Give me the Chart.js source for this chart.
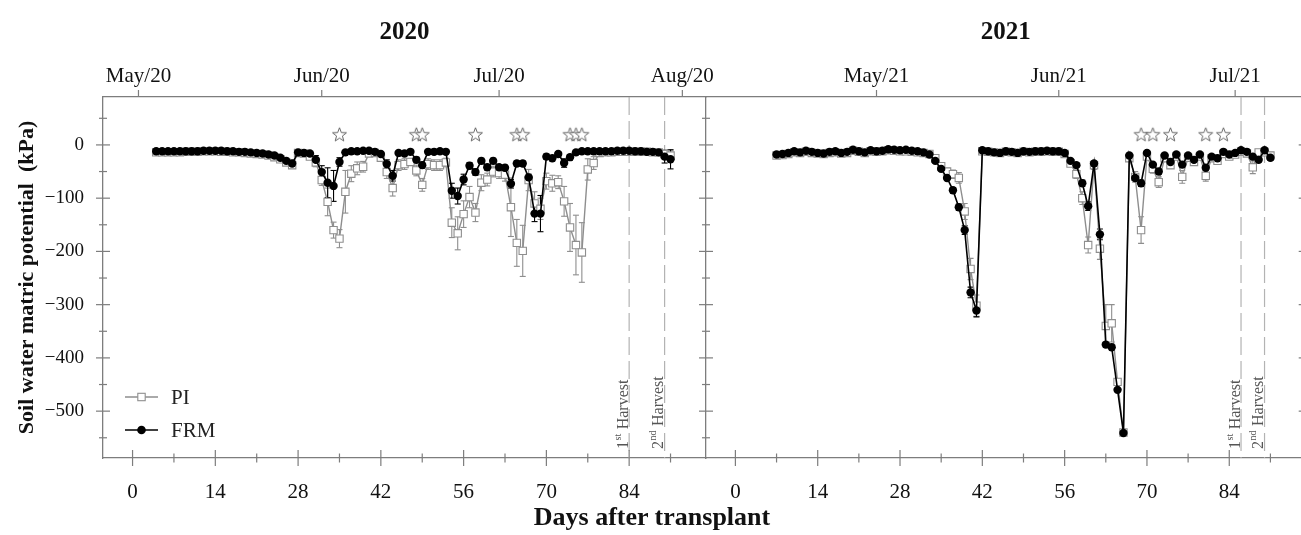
<!DOCTYPE html>
<html>
<head>
<meta charset="utf-8">
<script src="https://cdn.jsdelivr.net/npm/chart.js@4.4.1/dist/chart.umd.min.js"></script>
<style>
html, body { margin: 0; padding: 0; background: #fff; overflow: hidden; width: 1301px; height: 535px; }
canvas { position: absolute; top: 0; }
#c2020 { left: 0; }
#c2021 { left: 640px; }
#xlab { position: absolute; left: 452px; width: 400px; top: 502px; line-height: 30px; text-align: center;
        font: bold 26px 'Liberation Serif', 'Times New Roman', serif; color: #111; }
</style>
</head>
<body>
<canvas id="c2020" width="740" height="535"></canvas>
<canvas id="c2021" width="672" height="535"></canvas>
<div id="xlab">Days after transplant</div>
<script>
// ---- data (days after transplant, kPa) ----
var days2020 = [4,5,6,7,8,9,10,11,12,13,14,15,16,17,18,19,
  20,21,22,23,24,25,26,27,
  28,29,30,31,32,33,34,35,36,37,38,39,40,41,
  42,43,44,45,46,47,48,49,50,51,52,53,
  54,55,56,57,58,59,60,61,62,63,
  64,65,66,67,68,69,70,71,72,73,74,75,76,77,78,
  79,80,81,82,83,84,85,86,87,88,89,90,91];
var pi2020 = [-14,-14,-14,-14,-14,-13,-13,-13,-12,-12,-12,-13,-13,-14,-14,-15,
  -16,-17,-18,-20,-23,-27,-33,-38,
  -15,-16,-22,-33,-66,-107,-160,-176,-88,-54,-44,-41,-16,-15,
  -24,-51,-81,-38,-36,-32,-48,-75,-36,-38,-38,-33,
  -146,-166,-130,-98,-127,-71,-65,-50,-53,-56,
  -117,-184,-199,-66,-110,-120,-68,-72,-70,-106,-155,-188,-202,-46,-34,
  -15,-14,-14,-13,-13,-13,-13,-13,-13,-14,-14,-17,-20];
var frm2020 = [-12,-12,-12,-12,-12,-12,-12,-12,-11,-11,-11,-11,-12,-12,-13,-13,
  -14,-15,-16,-18,-20,-24,-30,-35,
  -14,-15,-16,-28,-51,-71,-77,-32,-14,-12,-12,-11,-11,-13,
  -17,-36,-58,-15,-16,-13,-28,-38,-13,-13,-12,-13,
  -86,-96,-65,-39,-51,-30,-42,-30,-42,-43,
  -73,-35,-35,-61,-129,-129,-22,-25,-17,-34,-23,-14,-12,-12,-12,
  -12,-12,-12,-11,-11,-11,-12,-12,-13,-13,-14,-22,-27];
var piErr2020 = [0,0,0,0,0,0,0,0,0,0,0,0,0,0,0,0,
  0,0,0,0,0,3,5,6,
  0,0,4,8,10,26,15,17,40,15,12,10,0,0,
  5,12,15,10,10,6,10,12,10,10,10,8,
  28,31,25,20,17,15,12,10,10,12,
  55,44,48,20,22,20,15,15,12,28,45,56,56,20,12,
  0,0,0,0,0,0,0,0,0,0,0,6,10];
var frmErr2020 = [0,0,0,0,0,0,0,0,0,0,0,0,0,0,0,0,
  0,0,0,0,0,3,5,6,
  0,0,0,8,12,28,29,8,0,0,0,0,0,0,
  0,8,10,0,0,0,5,6,0,0,0,0,
  14,15,10,6,6,5,5,5,5,5,
  8,5,5,6,15,34,5,5,4,8,5,0,0,0,0,
  0,0,0,0,0,0,0,0,0,0,0,12,18];
var stars2020 = [35, 48, 49, 58, 65, 66, 74, 75, 76];
var harvest2020 = [84, 90];
var monthDays2020 = [1, 32, 62, 93];
var monthLabels2020 = ['May/20', 'Jun/20', 'Jul/20', 'Aug/20'];

var days2021 = [7,8,9,10,11,12,13,14,15,16,17,18,19,20,21,22,23,24,25,26,27,28,29,30,31,32,
  33,34,35,36,37,38,39,40,41,
  42,43,44,45,46,47,48,49,50,51,52,53,54,55,
  56,57,58,59,60,61,62,63,64,65,66,
  67,68,69,70,71,72,73,74,75,76,77,78,79,80,81,82,83,84,85,86,87,88,89,90,91];
var pi2021 = [-20,-19,-17,-14,-15,-13,-15,-16,-17,-15,-14,-16,-15,-11,-13,-15,-12,-13,-12,-10,-11,-12,-12,-13,-14,-15,
  -17,-25,-40,-50,-55,-62,-125,-233,-302,
  -12,-13,-14,-15,-13,-14,-15,-13,-14,-13,-13,-12,-13,-13,
  -17,-35,-55,-100,-188,-38,-195,-340,-335,-445,-540,
  -25,-60,-160,-22,-45,-70,-25,-38,-22,-60,-24,-32,-22,-58,-25,-30,-17,-22,-18,-13,-16,-42,-14,-14,-20];
var frm2021 = [-18,-17,-15,-12,-14,-11,-13,-15,-16,-13,-12,-15,-13,-9,-12,-14,-10,-12,-11,-8,-9,-10,-9,-11,-12,-14,
  -18,-30,-45,-62,-85,-117,-160,-277,-311,
  -10,-12,-14,-15,-12,-13,-15,-12,-13,-12,-12,-11,-12,-12,
  -15,-30,-38,-72,-115,-35,-168,-375,-380,-460,-541,
  -20,-62,-72,-15,-37,-50,-20,-32,-18,-37,-20,-28,-18,-43,-22,-25,-13,-18,-15,-10,-13,-22,-28,-10,-24];
var piErr2021 = [0,0,0,0,0,0,0,0,0,0,0,0,0,0,0,0,0,0,0,0,0,0,0,0,0,0,
  0,3,5,6,8,10,15,20,20,
  0,0,0,0,0,0,0,0,0,0,0,0,0,0,
  0,5,8,12,15,8,20,40,35,0,0,
  5,10,25,5,8,10,5,6,5,12,5,5,5,10,5,5,4,5,4,3,4,12,4,4,6];
var frmErr2021 = [0,0,0,0,0,0,0,0,0,0,0,0,0,0,0,0,0,0,0,0,0,0,0,0,0,0,
  0,0,3,4,5,6,8,10,12,
  0,0,0,0,0,0,0,0,0,0,0,0,0,0,
  0,3,4,6,8,4,10,0,0,0,0,
  3,5,6,3,4,5,3,4,3,4,3,3,3,4,3,3,3,3,3,3,3,4,4,3,5];
var stars2021 = [69, 71, 74, 80, 83];
var harvest2021 = [86, 90];
var monthDays2021 = [24, 55, 85];
var monthLabels2021 = ['May/21', 'Jun/21', 'Jul/21'];

var xTickVals = [0,7,14,21,28,35,42,49,56,63,70,77,84,91];
var yTickVals = [50,0,-50,-100,-150,-200,-250,-300,-350,-400,-450,-500,-550];

// ---- styling ----
var serif = "'Liberation Serif', 'Times New Roman', serif";
var axisColor = '#7d7d7d';
var piColor = '#8e8e8e';
var starLevel = 20;

function makeStar() {
  var c = document.createElement('canvas');
  c.width = 17; c.height = 17;
  var g = c.getContext('2d');
  g.beginPath();
  for (var i = 0; i < 10; i++) {
    var r = i % 2 ? 3.1 : 7.3;
    var a = -Math.PI / 2 + i * Math.PI / 5;
    var px = 8.5 + r * Math.cos(a), py = 9.2 + r * Math.sin(a);
    if (i) g.lineTo(px, py); else g.moveTo(px, py);
  }
  g.closePath();
  g.fillStyle = '#fff'; g.fill();
  g.strokeStyle = '#555'; g.lineWidth = 0.9; g.stroke();
  return c;
}
var starImg = makeStar();

function line(ctx, x1, y1, x2, y2) {
  ctx.beginPath(); ctx.moveTo(x1, y1); ctx.lineTo(x2, y2); ctx.stroke();
}

var panelPlugin = {
  id: 'panel',
  beforeDatasetsDraw: function(chart, args, opts) {
    var ctx = chart.ctx, a = chart.chartArea;
    var xs = chart.scales.x, ys = chart.scales.y;
    ctx.save();
    ctx.beginPath(); ctx.rect(a.left, a.top, a.right - a.left, a.bottom - a.top); ctx.clip();
    // harvest lines
    ctx.strokeStyle = '#b3b3b3'; ctx.lineWidth = 1.2; ctx.setLineDash([18, 6]);
    opts.harvest.forEach(function(d) {
      var px = xs.getPixelForValue(d);
      line(ctx, px, a.top, px, a.bottom);
    });
    ctx.setLineDash([]);
    // error bars
    chart.data.datasets.forEach(function(ds) {
      if (!ds.errors) return;
      ctx.strokeStyle = ds.borderColor; ctx.lineWidth = 1.1;
      ds.data.forEach(function(pt, i) {
        var e = ds.errors[i];
        if (!e) return;
        var px = xs.getPixelForValue(pt.x);
        var y1 = ys.getPixelForValue(pt.y + e), y2 = ys.getPixelForValue(pt.y - e);
        line(ctx, px, y1, px, y2);
        line(ctx, px - 3, y1, px + 3, y1);
        line(ctx, px - 3, y2, px + 3, y2);
      });
    });
    ctx.restore();
  },
  afterDraw: function(chart, args, opts) {
    var ctx = chart.ctx, a = chart.chartArea;
    var xs = chart.scales.x, ys = chart.scales.y, xt = chart.scales.xTop;
    ctx.save();
    // tick marks crossing the axes
    ctx.strokeStyle = axisColor; ctx.lineWidth = 1.2;
    xs.ticks.forEach(function(t) {
      var p = xs.getPixelForValue(t.value), L = t.value % 14 === 0 ? 8 : 4.5;
      line(ctx, p, a.bottom - L, p, a.bottom + L);
    });
    ys.ticks.forEach(function(t) {
      var p = ys.getPixelForValue(t.value), L = t.value % 100 === 0 ? 7 : 4;
      line(ctx, a.left - L, p, a.left + L, p);
      if (opts.rightTicks) line(ctx, a.right - L, p, a.right, p);
    });
    xt.ticks.forEach(function(t) {
      var p = xt.getPixelForValue(t.value);
      line(ctx, p, a.top - 7, p, a.top);
    });
    // panel title
    ctx.fillStyle = '#111';
    ctx.font = 'bold 25px ' + serif;
    ctx.textAlign = 'center'; ctx.textBaseline = 'alphabetic';
    ctx.fillText(opts.year, (a.left + a.right) / 2, 39);
    // harvest labels
    ctx.fillStyle = '#555';
    ctx.textAlign = 'left';
    ['1', '2'].forEach(function(n, k) {
      var px = xs.getPixelForValue(opts.harvest[k]);
      ctx.save();
      ctx.translate(px - 1.5, a.bottom - 9);
      ctx.rotate(-Math.PI / 2);
      ctx.font = '16px ' + serif;
      ctx.fillText(n, 0, 0);
      var w = ctx.measureText(n).width;
      ctx.font = '10px ' + serif;
      var sup = k === 0 ? 'st' : 'nd';
      ctx.fillText(sup, w + 0.5, -7);
      var w2 = ctx.measureText(sup).width;
      ctx.font = '16px ' + serif;
      ctx.fillText(' Harvest', w + w2 + 1, 0);
      ctx.restore();
    });
    // legend
    if (opts.legend) {
      var ds = chart.data.datasets;
      var rows = [[ds[0], a.bottom - 61], [ds[1], a.bottom - 28]];
      rows.forEach(function(r, k) {
        var d = r[0], y = r[1], x0 = a.left + 22, x1 = a.left + 55, xm = (x0 + x1) / 2;
        ctx.strokeStyle = d.borderColor; ctx.lineWidth = d.borderWidth;
        line(ctx, x0, y, x1, y);
        if (k === 0) {
          ctx.fillStyle = '#fff'; ctx.fillRect(xm - 3.7, y - 3.7, 7.4, 7.4);
          ctx.lineWidth = 1.1; ctx.strokeRect(xm - 3.7, y - 3.7, 7.4, 7.4);
        } else {
          ctx.fillStyle = '#000'; ctx.beginPath(); ctx.arc(xm, y, 4.3, 0, Math.PI * 2); ctx.fill();
        }
        ctx.fillStyle = '#222'; ctx.font = '21px ' + serif;
        ctx.textAlign = 'left'; ctx.textBaseline = 'middle';
        ctx.fillText(d.label, a.left + 68, y + 1);
      });
    }
    ctx.restore();
  }
};

function buildPanel(id, cfg) {
  var yLabelFmt = function(v) {
    if (v % 100 !== 0) return '';
    return v < 0 ? '\u2212' + Math.abs(v) : String(v);
  };
  return new Chart(document.getElementById(id), {
    type: 'line',
    data: {
      datasets: [
        { label: 'PI', data: cfg.days.map(function(d, i) { return { x: d, y: cfg.pi[i] }; }),
          errors: cfg.piErr, borderColor: piColor, borderWidth: 1.4,
          pointStyle: 'rect', pointRadius: 5.2, pointBackgroundColor: '#fff',
          pointBorderColor: piColor, pointBorderWidth: 1.1, order: 2 },
        { label: 'FRM', data: cfg.days.map(function(d, i) { return { x: d, y: cfg.frm[i] }; }),
          errors: cfg.frmErr, borderColor: '#000', borderWidth: 1.6,
          pointStyle: 'circle', pointRadius: 4.2, pointBackgroundColor: '#000',
          pointBorderColor: '#000', pointBorderWidth: 0, order: 1 },
        { label: 'sig', type: 'scatter', data: cfg.stars.map(function(d) { return { x: d, y: starLevel }; }),
          pointStyle: starImg, showLine: false, order: 0 }
      ]
    },
    options: {
      responsive: false,
      animation: false,
      devicePixelRatio: 1,
      layout: { padding: { left: 0, right: cfg.padRight, top: 0, bottom: 0 } },
      plugins: {
        legend: { display: false },
        tooltip: { enabled: false },
        panel: { year: cfg.year, harvest: cfg.harvest, legend: cfg.legend, rightTicks: cfg.rightTicks }
      },
      scales: {
        x: {
          type: 'linear', position: 'bottom', min: -5, max: 97,
          afterBuildTicks: function(s) { s.ticks = xTickVals.map(function(v) { return { value: v }; }); },
          afterFit: function(s) { s.height = 77; },
          grid: { display: false, drawTicks: false },
          border: { display: true, color: axisColor, width: 1.3 },
          ticks: { autoSkip: false, maxRotation: 0, minRotation: 0, padding: 22, color: '#111',
                   font: { family: serif, size: 21 },
                   callback: function(v) { return v % 14 === 0 ? String(v) : ''; } }
        },
        xTop: {
          type: 'linear', position: 'top', min: -5, max: 97,
          afterBuildTicks: function(s) { s.ticks = cfg.monthDays.map(function(v) { return { value: v }; }); },
          afterFit: function(s) { s.height = 97; },
          grid: { display: false, drawTicks: false },
          border: { display: true, color: axisColor, width: 1.3 },
          ticks: { autoSkip: false, maxRotation: 0, minRotation: 0, padding: 8, color: '#111',
                   font: { family: serif, size: 21 },
                   callback: function(v) { return cfg.monthLabels[cfg.monthDays.indexOf(v)]; } }
        },
        y: {
          type: 'linear', position: 'left', min: -588, max: 90,
          afterBuildTicks: function(s) { s.ticks = yTickVals.map(function(v) { return { value: v }; }); },
          afterFit: function(s) { s.width = cfg.yWidth; },
          grid: { display: false, drawTicks: false },
          border: { display: true, color: axisColor, width: 1.3 },
          ticks: { display: cfg.yLabels, autoSkip: false, padding: 19, color: '#111',
                   font: { family: serif, size: 19 }, callback: yLabelFmt },
          title: { display: cfg.yLabels, text: 'Soil water matric potential  (kPa)', color: '#111',
                   font: { family: serif, size: 22, weight: 'bold' }, padding: { top: 14, bottom: 0 } }
        }
      }
    },
    plugins: [panelPlugin]
  });
}

buildPanel('c2020', {
  year: '2020', days: days2020, pi: pi2020, frm: frm2020, piErr: piErr2020, frmErr: frmErr2020,
  stars: stars2020, harvest: harvest2020, monthDays: monthDays2020, monthLabels: monthLabels2020,
  yWidth: 103, yLabels: true, padRight: 34, legend: true, rightTicks: false
});
buildPanel('c2021', {
  year: '2021', days: days2021, pi: pi2021, frm: frm2021, piErr: piErr2021, frmErr: frmErr2021,
  stars: stars2021, harvest: harvest2021, monthDays: monthDays2021, monthLabels: monthLabels2021,
  yWidth: 66, yLabels: false, padRight: 3, legend: false, rightTicks: true
});
</script>
</body>
</html>
